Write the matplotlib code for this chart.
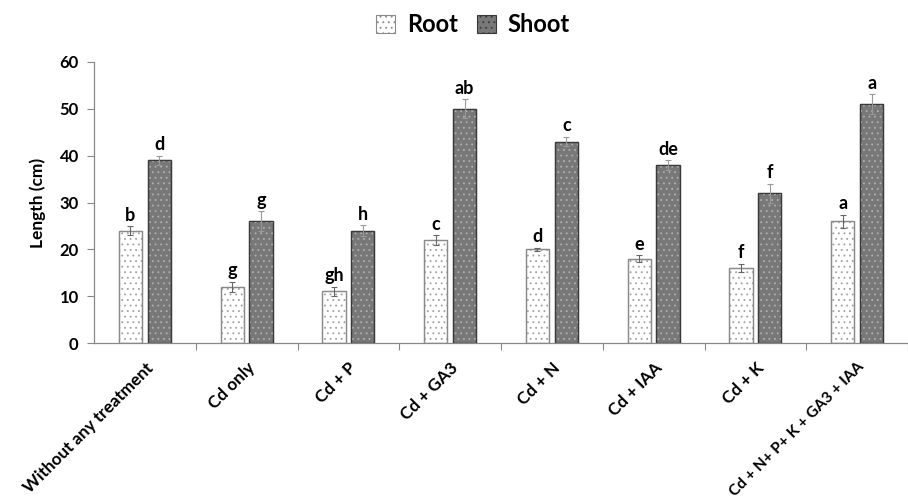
import matplotlib
matplotlib.use("Agg")
import matplotlib.pyplot as plt
import numpy as np
from matplotlib.patches import Patch

categories = ["Without any treatment", "Cd only", "Cd + P", "Cd + GA3", "Cd + N",
              "Cd + IAA", "Cd + K", "Cd + N+ P+ K + GA3 + IAA"]
root = [24, 12, 11, 22, 20, 18, 16, 26]
shoot = [39, 26, 24, 50, 43, 38, 32, 51]
root_err = [0.9, 1.1, 1.0, 1.0, 0.3, 0.7, 0.85, 1.4]
shoot_err = [1.0, 2.1, 1.1, 2.0, 1.0, 1.0, 2.0, 2.1]
root_letters = ["b", "g", "gh", "c", "d", "e", "f", "a"]
shoot_letters = ["d", "g", "h", "ab", "c", "de", "f", "a"]
yticks = [0, 10, 20, 30, 40, 50, 60]

plt.rcParams['font.family'] = ['Lato', 'DejaVu Sans']
plt.rcParams['hatch.linewidth'] = 0.6

fig = plt.figure(figsize=(9.08, 5.03), dpi=100)
ax = fig.add_axes([94/908, 1-343/503, 1-94/908, (343-62)/503])

x = np.arange(len(categories))
w = 0.228
off = 0.142

# root bars
ax.bar(x - off, root, w, color='white', edgecolor='#8a8a8a', linewidth=0.9, zorder=2)
ax.bar(x - off, root, w, fill=False, hatch='...', edgecolor='#a0a0a0', linewidth=0, zorder=3)
ax.bar(x - off, root, w, fill=False, edgecolor='#8a8a8a', linewidth=0.9, zorder=4)
# shoot bars
ax.bar(x + off, shoot, w, color='#787878', edgecolor='#3a3a3a', linewidth=0.9, zorder=2)
ax.bar(x + off, shoot, w, fill=False, hatch='...', edgecolor='#b0b0b0', linewidth=0, zorder=3)
ax.bar(x + off, shoot, w, fill=False, edgecolor='#3a3a3a', linewidth=0.9, zorder=4)

ax.errorbar(x - off, root, yerr=root_err, fmt='none', ecolor='#666666', elinewidth=0.8,
            capsize=2, capthick=0.8, zorder=5)
ax.errorbar(x + off, shoot, yerr=shoot_err, fmt='none', ecolor='#999999', elinewidth=0.8,
            capsize=2, capthick=0.8, zorder=5)

for i in range(len(categories)):
    ax.annotate(root_letters[i], (x[i] - off, root[i] + root_err[i]), xytext=(0, 2),
                textcoords='offset points', ha='center', va='bottom',
                fontsize=13, fontweight='bold')
    ax.annotate(shoot_letters[i], (x[i] + off, shoot[i] + shoot_err[i]), xytext=(0, 2),
                textcoords='offset points', ha='center', va='bottom',
                fontsize=13, fontweight='bold')

ax.set_xlim(-0.5, -0.5 + (908 - 94) / 103)
ax.set_ylim(0, 60)
ax.set_yticks(yticks)
ax.set_yticklabels([str(v) for v in yticks], fontsize=12, fontweight='bold')
ax.set_xticks(x)
ax.set_xticklabels(categories, rotation=45, ha='right', va='top', rotation_mode='anchor',
                   fontsize=12.3, fontweight='bold')
ax.get_xticklabels()[-1].set_fontsize(11.2)
ax.tick_params(axis='x', which='major', length=0, pad=12)
ax.set_xticks(np.arange(len(categories)) + 0.5, minor=True)
ax.tick_params(axis='x', which='minor', length=5, color='#888888', width=0.8)
ax.tick_params(axis='y', length=5, color='#888888', width=0.8, pad=6)
for s in ['top', 'right']:
    ax.spines[s].set_visible(False)
for s in ['left', 'bottom']:
    ax.spines[s].set_color('#888888')
    ax.spines[s].set_linewidth(0.9)

ax.set_ylabel("Length (cm)", fontsize=12.5, fontweight='bold', labelpad=10)

h1 = Patch(facecolor='white', edgecolor='#8a8a8a', hatch='...', linewidth=0.8)
h2 = Patch(facecolor='#787878', edgecolor='#3a3a3a', hatch='...', linewidth=0.8)
leg = fig.legend([h1, h2], ["Root", "Shoot"], loc='center', bbox_to_anchor=(473/908, 1-25/503),
                 ncol=2, frameon=False, prop={'weight': 'bold', 'size': 17},
                 handlelength=0.8, handleheight=0.8, handletextpad=0.5, columnspacing=0.8)

fig.savefig("out.png", dpi=100)
